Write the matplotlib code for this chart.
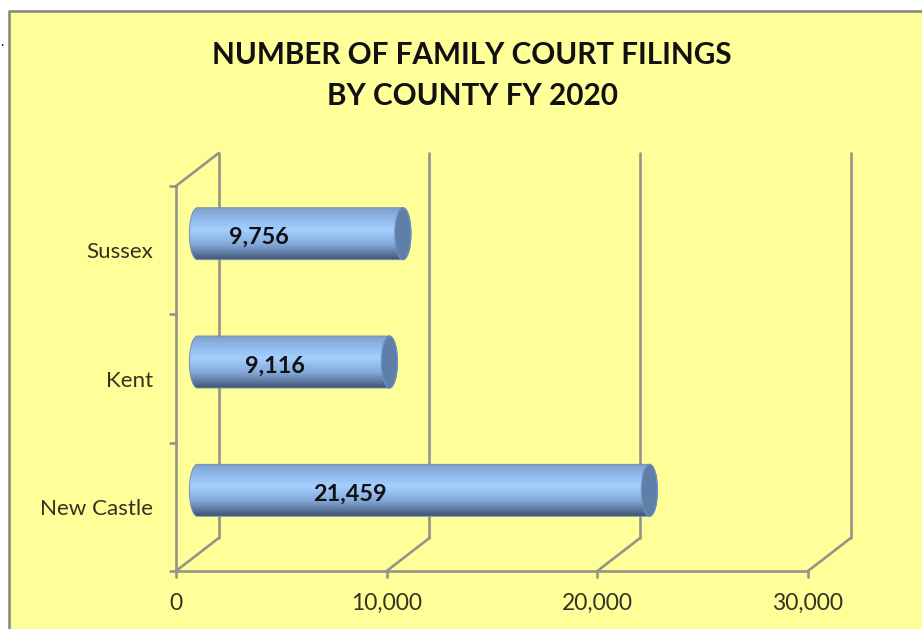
import numpy as np
import matplotlib
matplotlib.use("Agg")
import matplotlib.pyplot as plt
from matplotlib.colors import LinearSegmentedColormap
from matplotlib.patches import Ellipse, PathPatch, Rectangle
from matplotlib.path import Path

counties = ["New Castle", "Kent", "Sussex"]
filings = [21459, 9116, 9756]
label_x = [8260, 4700, 3940]
x_ticks = [0, 10000, 20000, 30000]
x_tick_labels = ["0", "10,000", "20,000", "30,000"]
title_lines = ["NUMBER OF FAMILY COURT FILINGS", "BY COUNTY FY 2020"]

W, H = 922, 629
YELLOW = "#FFFF99"
GRID = "#94948A"
TXT = "#33331F"
DEPTH_X = 2030
DEPTH_Y = 0.257
BAR_H = 0.405
CAP_W = 380

plt.rcParams["font.family"] = ["Lato", "DejaVu Sans"]
fig = plt.figure(figsize=(W / 100, H / 100), dpi=100, facecolor="white")

# yellow panel with grey top and left edges
fig.add_artist(Rectangle((8 / W, 0), 1, 1 - 10 / H, transform=fig.transFigure,
                         fc=YELLOW, ec="none", zorder=-3))
fig.add_artist(plt.Line2D([9 / W, 9 / W, 1], [0, 1 - 11 / H, 1 - 11 / H],
                          transform=fig.transFigure, color="#858585", lw=1.8, zorder=-2))
fig.text(2 / W, 1 - 46 / H, ".", fontsize=10, color="black", ha="center", va="baseline")

ax = fig.add_axes([176 / W, 1 - 571 / H, (808 - 176) / W, (571 - 186) / H])
ax.axis("off")
ax.set_xlim(0, 30000)
ax.set_ylim(0, 3)

kw = dict(color=GRID, lw=1.9, clip_on=False, zorder=1, solid_capstyle="round")
# floor and walls
ax.plot([0, 30000], [0, 0], **kw)
ax.plot([0, 0], [0, 3], **kw)
ax.plot([0, DEPTH_X], [3, 3 + DEPTH_Y], **kw)
for t, lab in zip(x_ticks, x_tick_labels):
    ax.plot([t, t + DEPTH_X], [0, DEPTH_Y], **kw)
    ax.plot([t + DEPTH_X, t + DEPTH_X], [DEPTH_Y, 3 + DEPTH_Y], **kw)
    ax.plot([t, t], [0, -0.05], **kw)
    ax.annotate(lab, (t, 0), xytext=(0, -32), textcoords="offset pixels",
                ha="center", va="center", fontsize=16.5, color=TXT)
for b in range(4):
    ax.plot([-290, 0], [b, b], **kw)

# cylinder bars with a vertical shading
shade = LinearSegmentedColormap.from_list(
    "cyl", [(0, "#7F9FC8"), (0.14, "#8AB2E4"), (0.42, "#A4CFFF"),
            (0.70, "#83A9DA"), (0.88, "#5C779D"), (1, "#3E5270")])
grad = np.linspace(0, 1, 256).reshape(-1, 1)
theta = np.linspace(-np.pi / 2, np.pi / 2, 60)

for i, (name, val, lx) in enumerate(zip(counties, filings, label_x)):
    yc = i + 0.5 + DEPTH_Y / 2
    x0 = DEPTH_X / 2
    x1 = x0 + val
    rx = x1 + CAP_W * np.cos(theta)
    ry = yc + BAR_H / 2 * np.sin(theta)
    lxs = x0 - CAP_W * np.cos(theta[::-1])
    lys = yc + BAR_H / 2 * np.sin(theta[::-1])
    verts = np.r_[np.c_[rx, ry], np.c_[lxs, lys]]
    outline = PathPatch(Path(np.r_[verts, verts[:1]]), fc="none",
                        ec="#7A90AE", lw=0.7, zorder=4, clip_on=False)
    ax.add_patch(outline)
    im = ax.imshow(grad, cmap=shade, aspect="auto", zorder=3, interpolation="bilinear",
                   origin="upper",
                   extent=(x0 - CAP_W, x1 + CAP_W, yc - BAR_H / 2, yc + BAR_H / 2))
    im.set_clip_path(outline)
    ax.add_patch(Ellipse((x1, yc), 2 * CAP_W, BAR_H, fc="#5F7FA9", ec="#6A90C4",
                         lw=0.9, zorder=5, clip_on=False))
    ax.text(lx, yc - 0.03, f"{val:,}", ha="center", va="center", fontsize=16.8,
            fontweight="bold", color="#111111", zorder=6)
    ax.annotate(name, (0, i + 0.5), xytext=(-23, -2), textcoords="offset pixels",
                ha="right", va="center", fontsize=16.1, color=TXT)

ax.set_xlim(0, 30000)
ax.set_ylim(0, 3)

fig.text(472 / W, 1 - 55 / H, title_lines[0], ha="center", va="center",
         fontsize=21.3, fontweight="bold", color="#111111")
fig.text(472 / W, 1 - 96 / H, title_lines[1], ha="center", va="center",
         fontsize=21.3, fontweight="bold", color="#111111")

fig.savefig("out.png", dpi=100, facecolor=fig.get_facecolor())
